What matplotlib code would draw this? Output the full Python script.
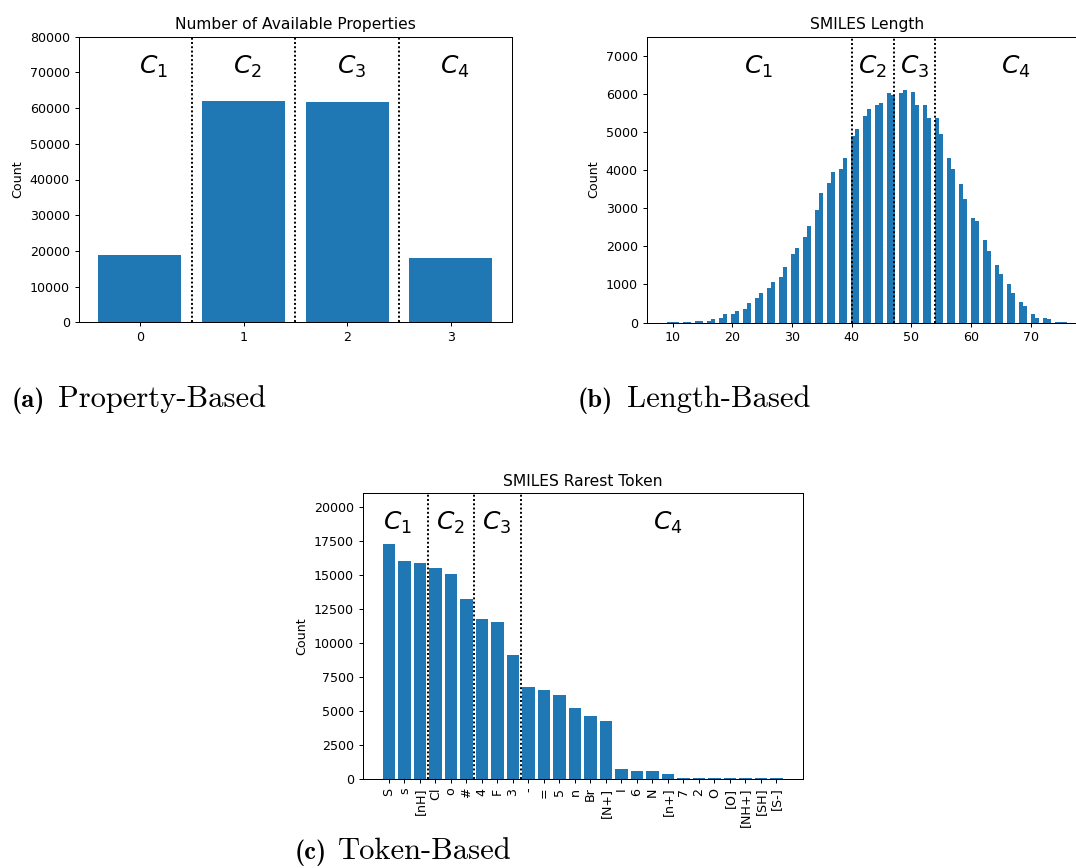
import numpy as np
import matplotlib.pyplot as plt
from matplotlib.ticker import MultipleLocator

# ---- (a) number of available properties
n_props = [0, 1, 2, 3]
prop_counts = [18900, 62000, 61700, 18000]
prop_splits = [0.5, 1.5, 2.5]
prop_c_pos = [0.13, 1.04, 2.04, 3.04]

# ---- (b) SMILES length (one entry per integer length 9..76)
smiles_len = list(range(9, 77))
len_counts = [1, 2, 5, 10, 25, 50, 50, 50, 100, 130, 210,          # 9-19
              235, 290, 365, 520, 630, 785, 915, 1070, 1200, 1465,  # 20-29
              1810, 1965, 2255, 2540, 2960, 3405, 3665, 3955, 4030, 4320,  # 30-39
              4895, 5080, 5415, 5600, 5700, 5755, 6015, 5965, 6015, 6095,  # 40-49
              6045, 5700, 5700, 5360, 5360, 4945, 4315, 4030, 3635, 3245,  # 50-59
              2745, 2670, 2170, 1885, 1515, 1280, 1020, 785, 525, 420,     # 60-69
              235, 105, 105, 80, 25, 8, 3]                                 # 70-76
len_splits = [40, 47, 54]
len_c_pos = [24.4, 43.4, 50.5, 67.5]

# ---- (c) rarest token
tokens = ['S', 's', '[nH]', 'Cl', 'o', '#', '4', 'F', '3', '-', '=', '5', 'n',
          'Br', '[N+]', 'I', '6', 'N', '[n+]', '7', '2', 'O', '[O]', '[NH+]',
          '[SH]', '[S-]']
token_counts = [17250, 16000, 15850, 15490, 15050, 13200, 11740, 11520, 9090,
                6740, 6520, 6150, 5200, 4610, 4240, 710, 565, 565, 345,
                60, 50, 40, 35, 30, 25, 20]
token_splits = [2.5, 5.5, 8.5]
token_c_pos = [0.56, 3.95, 6.95, 17.97]

W, H = 1076, 868
S = 0.91  # subfigures were shrunk a bit when laid out
plt.rcParams['font.size'] = 10 * S
plt.rcParams['axes.linewidth'] = 0.8 * S
for ax_ in ['xtick', 'ytick']:
    plt.rcParams[ax_ + '.major.size'] = 3.5 * S
    plt.rcParams[ax_ + '.major.width'] = 0.8 * S
    plt.rcParams[ax_ + '.major.pad'] = 3.5 * S

fig = plt.figure(figsize=(W / 100, H / 100), dpi=100)


def rect(l, t, r, b):
    return [l / W, 1 - b / H, (r - l) / W, (b - t) / H]


def decorate(ax, splits, cpos, title):
    for s in splits:
        ax.axvline(s, color='black', linestyle=(0, (1, 1.2)), linewidth=1.4)
    for i, x in enumerate(cpos):
        ax.text(x, 0.895, '$C_%d$' % (i + 1), transform=ax.get_xaxis_transform(),
                ha='center', va='center', fontsize=18)
    ax.set_title(title, fontsize=11.2, pad=6 * S)
    ax.set_ylabel('Count')


ax1 = fig.add_axes(rect(78.7, 36.7, 512, 322.3))
ax1.bar(n_props, prop_counts, color='#1f77b4')
ax1.set_xticks(n_props)
ax1.set_ylim(0, 80000)
ax1.yaxis.set_major_locator(MultipleLocator(10000))
decorate(ax1, prop_splits, prop_c_pos, 'Number of Available Properties')

ax2 = fig.add_axes(rect(646.7, 36.7, 1086.7, 322.5))
ax2.hist(smiles_len, bins=100, weights=len_counts, color='#1f77b4')
ax2.set_ylim(0, 7500)
ax2.yaxis.set_major_locator(MultipleLocator(1000))
decorate(ax2, len_splits, len_c_pos, 'SMILES Length')

ax3 = fig.add_axes(rect(362.7, 493.3, 802.7, 778.7))
ax3.bar(range(len(tokens)), token_counts, color='#1f77b4')
ax3.set_xticks(range(len(tokens)))
ax3.set_xticklabels(tokens, rotation=90)
ax3.set_ylim(0, 21000)
ax3.yaxis.set_major_locator(MultipleLocator(2500))
decorate(ax3, token_splits, token_c_pos, 'SMILES Rarest Token')

# captions under each panel
captions = [(11.7, 58.3, 406.7, '(a)', 'Property-Based'),
            (578, 627, 406.7, '(b)', 'Length-Based'),
            (295, 338.3, 859.3, '(c)', 'Token-Based')]
for xb, xt, yb, tag, name in captions:
    fig.text(xb / W, 1 - yb / H, tag, family='cmb10', fontsize=19,
             ha='left', va='baseline')
    fig.text(xt / W, 1 - yb / H, name, family='cmr10', fontsize=22,
             ha='left', va='baseline')

fig.savefig('out.png', dpi=100)
